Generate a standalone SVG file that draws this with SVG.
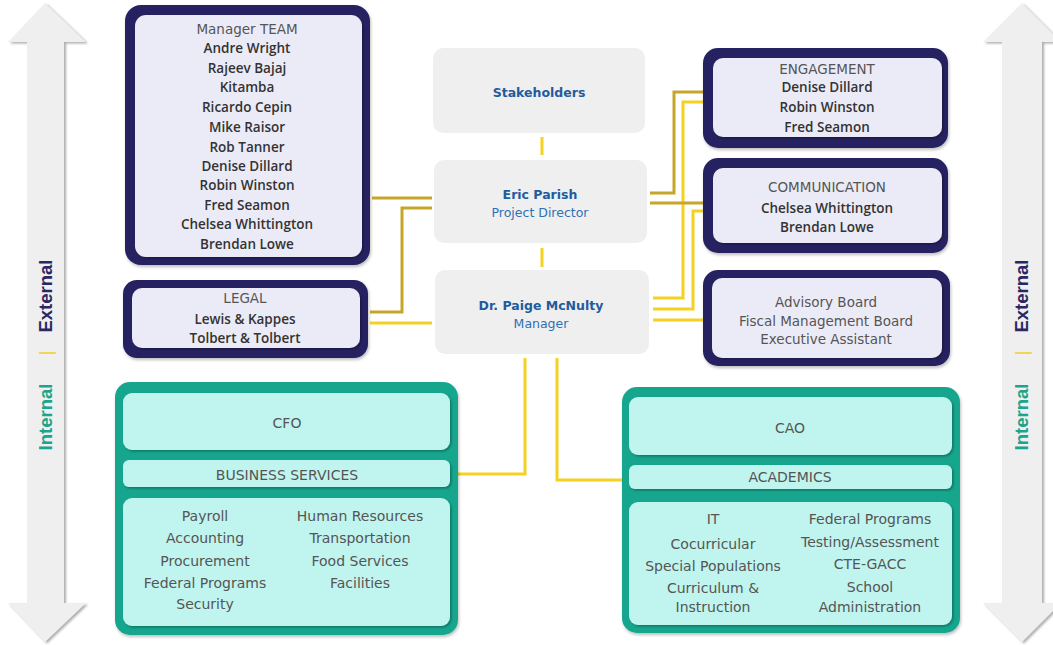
<svg xmlns="http://www.w3.org/2000/svg" width="1053" height="645" viewBox="0 0 1053 645">
<defs>
<filter id="ash" x="-20%" y="-5%" width="150%" height="110%"><feDropShadow dx="2" dy="1.5" stdDeviation="1.2" flood-color="#9a9a9a" flood-opacity="0.8"/></filter>
<filter id="ish" x="-5%" y="-5%" width="110%" height="115%"><feDropShadow dx="1.5" dy="1.5" stdDeviation="1.2" flood-color="#000" flood-opacity="0.3"/></filter>
<filter id="osh" x="-5%" y="-5%" width="110%" height="115%"><feDropShadow dx="1" dy="2" stdDeviation="1.5" flood-color="#000" flood-opacity="0.25"/></filter>
</defs>
<style>
text{dominant-baseline:central;text-anchor:middle}
.arrow{fill:#efefef;filter:url(#ash)}
.ax{font-family:"Liberation Sans",Arial,sans-serif;font-weight:bold;font-size:18.5px}
.int{fill:#1aa58c}.ext{fill:#2a2764}.bar{fill:#f2cf3a;font-weight:normal}
.nout{fill:#262262;filter:url(#osh)}
.nin{fill:#ebebf8;filter:url(#ish)}
.tout{fill:#19a68e;filter:url(#osh)}
.tin{fill:#c0f4ee;filter:url(#ish)}
.cbox{fill:#efefef}
.hd{font-family:"DejaVu Sans",sans-serif;font-size:13.5px;fill:#555}
.nm{font-family:"Open Sans",sans-serif;font-weight:600;font-size:13.5px;fill:#333}
.tt{font-family:"DejaVu Sans",sans-serif;font-size:14px;fill:#555}
.cb{font-family:"DejaVu Sans",sans-serif;font-weight:bold;font-size:12.5px;fill:#1f5c9e}
.cn{font-family:"DejaVu Sans",sans-serif;font-size:12.5px;fill:#2e6fb5}
.cd{fill:none;stroke:#c6a62a;stroke-width:3}
.cy{fill:none;stroke:#f5d222;stroke-width:3}
</style>

<g id="arrow-left">
<polygon class="arrow" points="45,3 86,42 64,42 64,603 86,603 45,642 8,603 27,603 27,42 8,42"/>
<g transform="translate(45,360) rotate(-90)" class="ax">
<text class="int" x="-57" y="0">Internal</text>
<text class="bar" x="7" y="0">|</text>
<text class="ext" x="64" y="0">External</text>
</g>
</g>
<g id="arrow-right">
<polygon class="arrow" points="1022,3 1061,42 1042,42 1042,603 1061,603 1022,642 983,603 1002,603 1002,42 983,42"/>
<g transform="translate(1021,360) rotate(-90)" class="ax">
<text class="int" x="-57" y="0">Internal</text>
<text class="bar" x="7" y="0">|</text>
<text class="ext" x="64" y="0">External</text>
</g>
</g>

<g id="connectors">
<path class="cd" d="M372,198 H432"/>
<path class="cd" d="M432,208 H402 V312 H370"/>
<path class="cy" d="M370,323 H432"/>
<path class="cy" d="M542,137 V155"/>
<path class="cy" d="M542,248 V267"/>
<path class="cd" d="M650,193 H674 V92 H703"/>
<path class="cy" d="M653,298 H683 V102 H703"/>
<path class="cy" d="M653,309 H693 V211 H703"/>
<path class="cd" d="M650,203 H703"/>
<path class="cy" d="M653,320 H703"/>
<path class="cy" d="M525,358 V474 H458"/>
<path class="cy" d="M557,358 V480 H622"/>
</g>

<g id="manager-team">
<rect class="nout" x="125" y="5" width="245" height="260" rx="16"/>
<rect class="nin" x="135" y="15" width="227" height="242" rx="11"/>
<text class="hd" x="247" y="29">Manager TEAM</text>
<text class="nm" x="247" y="48">Andre Wright</text>
<text class="nm" x="247" y="68">Rajeev Bajaj</text>
<text class="nm" x="247" y="87">Kitamba</text>
<text class="nm" x="247" y="107">Ricardo Cepin</text>
<text class="nm" x="247" y="127">Mike Raisor</text>
<text class="nm" x="247" y="147">Rob Tanner</text>
<text class="nm" x="247" y="166">Denise Dillard</text>
<text class="nm" x="247" y="185">Robin Winston</text>
<text class="nm" x="247" y="205">Fred Seamon</text>
<text class="nm" x="247" y="224">Chelsea Whittington</text>
<text class="nm" x="247" y="244">Brendan Lowe</text>
</g>

<g id="legal">
<rect class="nout" x="123" y="280" width="245" height="78" rx="14"/>
<rect class="nin" x="132" y="288" width="228" height="60" rx="10"/>
<text class="hd" x="245" y="298">LEGAL</text>
<text class="nm" x="245" y="319">Lewis &amp; Kappes</text>
<text class="nm" x="245" y="338">Tolbert &amp; Tolbert</text>
</g>

<g id="stakeholders">
<rect class="cbox" x="433" y="48" width="212" height="85" rx="10"/>
<text class="cb" x="539" y="92">Stakeholders</text>
</g>

<g id="eric-parish">
<rect class="cbox" x="434" y="160" width="213" height="83" rx="10"/>
<text class="cb" x="540" y="194">Eric Parish</text>
<text class="cn" x="540" y="212">Project Director</text>
</g>

<g id="paige-mcnulty">
<rect class="cbox" x="435" y="270" width="214" height="84" rx="10"/>
<text class="cb" x="541" y="305">Dr. Paige McNulty</text>
<text class="cn" x="541" y="323">Manager</text>
</g>

<g id="engagement">
<rect class="nout" x="703" y="48" width="245" height="100" rx="15"/>
<rect class="nin" x="713" y="58" width="229" height="79" rx="10"/>
<text class="hd" x="827" y="69">ENGAGEMENT</text>
<text class="nm" x="827" y="87">Denise Dillard</text>
<text class="nm" x="827" y="107">Robin Winston</text>
<text class="nm" x="827" y="127">Fred Seamon</text>
</g>

<g id="communication">
<rect class="nout" x="703" y="158" width="245" height="95" rx="15"/>
<rect class="nin" x="713" y="168" width="229" height="75" rx="10"/>
<text class="hd" x="827" y="187">COMMUNICATION</text>
<text class="nm" x="827" y="208">Chelsea Whittington</text>
<text class="nm" x="827" y="227">Brendan Lowe</text>
</g>

<g id="advisory">
<rect class="nout" x="703" y="270" width="247" height="96" rx="15"/>
<rect class="nin" x="712" y="278" width="230" height="80" rx="10"/>
<text class="hd" x="826" y="302">Advisory Board</text>
<text class="hd" x="826" y="321">Fiscal Management Board</text>
<text class="hd" x="826" y="339">Executive Assistant</text>
</g>

<g id="cfo">
<rect class="tout" x="115" y="382" width="343" height="253" rx="15"/>
<rect class="tin" x="123" y="393" width="327" height="57" rx="9"/>
<text class="tt" x="287" y="423">CFO</text>
<rect class="tin" x="123" y="460" width="327" height="27" rx="6"/>
<text class="tt" x="287" y="475">BUSINESS SERVICES</text>
<rect class="tin" x="123" y="498" width="327" height="128" rx="9"/>
<text class="tt" x="205" y="516">Payroll</text>
<text class="tt" x="205" y="538">Accounting</text>
<text class="tt" x="205" y="561">Procurement</text>
<text class="tt" x="205" y="583">Federal Programs</text>
<text class="tt" x="205" y="604">Security</text>
<text class="tt" x="360" y="516">Human Resources</text>
<text class="tt" x="360" y="538">Transportation</text>
<text class="tt" x="360" y="561">Food Services</text>
<text class="tt" x="360" y="583">Facilities</text>
</g>

<g id="cao">
<rect class="tout" x="622" y="387" width="338" height="246" rx="15"/>
<rect class="tin" x="629" y="397" width="323" height="58" rx="9"/>
<text class="tt" x="790" y="428">CAO</text>
<rect class="tin" x="629" y="465" width="323" height="24" rx="6"/>
<text class="tt" x="790" y="477">ACADEMICS</text>
<rect class="tin" x="629" y="502" width="323" height="123" rx="9"/>
<text class="tt" x="713" y="519">IT</text>
<text class="tt" x="713" y="544">Cocurricular</text>
<text class="tt" x="713" y="566">Special Populations</text>
<text class="tt" x="713" y="588">Curriculum &amp;</text>
<text class="tt" x="713" y="607">Instruction</text>
<text class="tt" x="870" y="519">Federal Programs</text>
<text class="tt" x="870" y="542">Testing/Assessment</text>
<text class="tt" x="870" y="564">CTE-GACC</text>
<text class="tt" x="870" y="587">School</text>
<text class="tt" x="870" y="607">Administration</text>
</g>
</svg>
